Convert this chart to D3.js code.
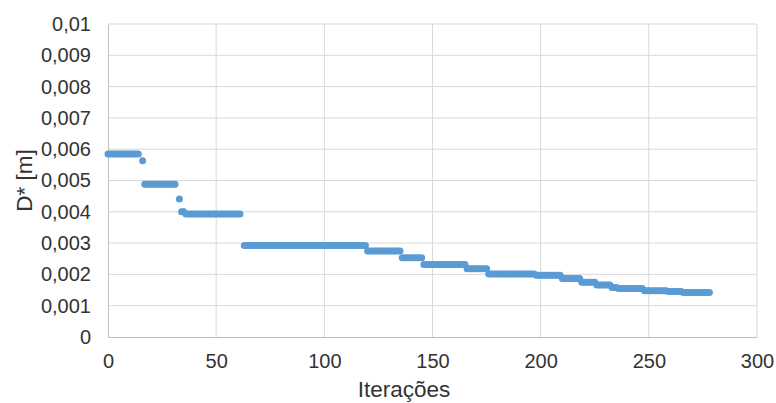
<!DOCTYPE html>
<html>
<head>
<meta charset="utf-8">
<script src="https://cdn.jsdelivr.net/npm/d3@7"></script>
<style>
  body { margin: 0; background: #fff; }
  text { font-family: "Liberation Sans", Arial, sans-serif; }
</style>
</head>
<body>
<div class="displayArea"></div>
<script>
// plateaus: first and last iteration, D* value
const segStart = [0, 16, 17, 33, 34, 36, 63, 120, 136, 146, 166, 176, 198, 210, 219, 226, 233, 236, 248, 259, 266];
const segEnd   = [14, 16, 31, 33, 35, 61, 119, 135, 145, 165, 175, 197, 209, 218, 225, 232, 235, 247, 258, 265, 278];
const segValue = [0.00585, 0.00563, 0.00488, 0.00441, 0.0040, 0.00393, 0.00292, 0.00275, 0.00253, 0.00232,
                  0.00218, 0.00201, 0.00197, 0.00187, 0.00175, 0.00166, 0.00158, 0.00155, 0.00148, 0.00145, 0.00142];
const xTicks = [0, 50, 100, 150, 200, 250, 300];
const yTicks = [0, 0.001, 0.002, 0.003, 0.004, 0.005, 0.006, 0.007, 0.008, 0.009, 0.01];

var points = [];
for (var s = 0; s < segStart.length; s++) {
    for (var it = segStart[s]; it <= segEnd[s]; it++) {
        points.push({x: it, y: segValue[s]});
    }
}

var width = 776, height = 403;

var xScale = d3.scaleLinear().domain([0, 300]).range([108, 757]),
    yScale = d3.scaleLinear().domain([0, 0.01]).range([337, 24]);

var svg = d3.select(".displayArea")
    .append("svg")
    .attr("width", width)
    .attr("height", height);

// gridlines
svg.append("g")
    .selectAll("line")
    .data(yTicks.slice(1))
    .enter()
    .append("line")
    .attr("x1", xScale(0)).attr("x2", xScale(300))
    .attr("y1", d => yScale(d)).attr("y2", d => yScale(d))
    .attr("stroke", "#d9d9d9").attr("stroke-width", 1);

svg.append("g")
    .selectAll("line")
    .data(xTicks.slice(1))
    .enter()
    .append("line")
    .attr("x1", d => xScale(d)).attr("x2", d => xScale(d))
    .attr("y1", yScale(0)).attr("y2", yScale(0.01))
    .attr("stroke", "#d9d9d9").attr("stroke-width", 1);

var fmt = d => String(+d.toFixed(3)).replace(".", ",");

var yAxis = d3.axisLeft(yScale).tickValues(yTicks).tickSize(0).tickPadding(17).tickFormat(fmt);
var xAxis = d3.axisBottom(xScale).tickValues(xTicks).tickSize(0).tickPadding(17);

svg.append("g")
    .attr("transform", `translate(${xScale(0)},0)`)
    .call(yAxis)
    .call(g => g.select(".domain").attr("stroke", "#bfbfbf"))
    .selectAll("text").attr("font-size", 20).attr("fill", "#333");

svg.append("g")
    .attr("transform", `translate(0,${yScale(0)})`)
    .call(xAxis)
    .call(g => g.select(".domain").attr("stroke", "#bfbfbf"))
    .selectAll("text").attr("font-size", 20).attr("fill", "#333");

svg.selectAll("text").attr("font-family", "'Liberation Sans', Arial, sans-serif");

// points
svg.append("g")
    .selectAll("circle")
    .data(points)
    .enter()
    .append("circle")
    .attr("cx", d => xScale(d.x))
    .attr("cy", d => yScale(d.y))
    .attr("r", 3.5)
    .attr("fill", "#5b9bd5");

// axis titles
svg.append("text")
    .attr("x", 404).attr("y", 397)
    .attr("text-anchor", "middle")
    .attr("font-size", 22.5).attr("fill", "#333")
    .text("Iterações");

svg.append("text")
    .attr("transform", `translate(32,${yScale(0.005)}) rotate(-90)`)
    .attr("text-anchor", "middle")
    .attr("font-size", 22.5).attr("fill", "#333")
    .text("D* [m]");
</script>
</body>
</html>
